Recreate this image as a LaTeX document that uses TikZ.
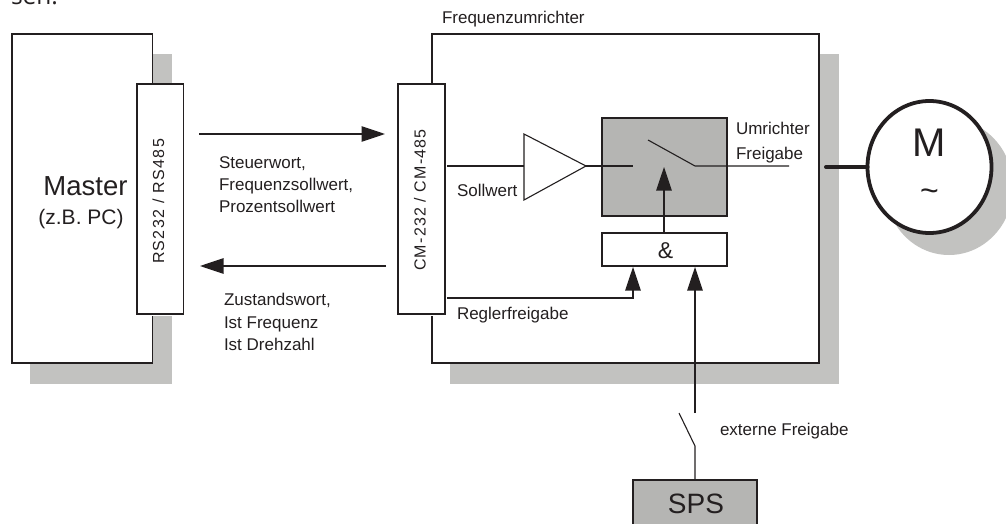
\documentclass[tikz,border=0pt]{standalone}
\usepackage{fontspec}
\setmainfont{Liberation Sans}
\newfontfamily\topfont{Open Sans}
\newfontfamily\rsfont[LetterSpace=8.6]{Liberation Sans}
\newfontfamily\cmfont[LetterSpace=7.5]{Liberation Sans}
\usetikzlibrary{arrows.meta,shapes.geometric}
\definecolor{shade}{HTML}{C2C2C0}
\definecolor{fillgray}{HTML}{B5B5B3}
\definecolor{ink}{HTML}{231F20}
\tikzset{
  x=1pt,y=-1pt,
  every node/.style={text=ink,inner sep=0pt,outer sep=0pt},
  line/.style={draw=ink,line width=1.1pt},
  box/.style={draw=ink,line width=1.2pt,fill=white},
  shadow/.style={fill=shade,draw=none},
  big/.style={-{Triangle[length=23.5pt,width=15.5pt]},draw=ink,line width=1.1pt},
  label/.style={anchor=base west,font=\fontsize{17}{20}\selectfont},
  vert/.style={rotate=90},
}
\begin{document}
\begin{tikzpicture}
\useasboundingbox (0,0) rectangle (1006,524);
\clip (0,0) rectangle (1006,524);
\node[anchor=base west,font=\topfont\fontsize{24.5}{28}\selectfont] (sen) at (11,5) {sen.};
% shadows
\fill[shadow] (30,54) rectangle (172,384);
\fill[shadow] (450,54) rectangle (839,384);
\node[ellipse,fill=shade,minimum width=128pt,minimum height=136pt] (motsh) at (949,187) {};
% main boxes
\draw[box] (12,34) rectangle (152.5,363);
\draw[box] (432,34) rectangle (819,363);
\fill[white] (137,84) rectangle (184,316);
\fill[white] (398,84) rectangle (445,316);
\coordinate (rsNW) at (137,84); \coordinate (rsSE) at (183.5,314);
\coordinate (cmNW) at (398,84); \coordinate (cmSE) at (445,314);
\draw[box] (rsNW) rectangle (rsSE);
\draw[box] (cmNW) rectangle (cmSE);
\node[vert,font=\rsfont\fontsize{16}{20}\selectfont] (rs) at (158.5,201.5) {RS232 / RS485};
\node[vert,font=\cmfont\fontsize{16}{20}\selectfont] (cm) at (420,200) {CM-232 / CM-485};
\node[anchor=base,font=\fontsize{27.5}{30}\selectfont] (master) at (85.5,195) {Master};
\node[anchor=base,font=\fontsize{21}{24}\selectfont] (pc) at (81,224) {(z.B. PC)};
\node[label] (fu) at (442,24) {Frequenzumrichter};
% bus arrows
\coordinate (a1) at (199,134); \coordinate (a2) at (385,134);
\coordinate (b1) at (386,266); \coordinate (b2) at (200,266);
\draw[big] (a1) -- (a2);
\draw[big] (b1) -- (b2);
\node[label] (s1) at (219,168) {Steuerwort,};
\node[label] (s2) at (219,190) {Frequenzsollwert,};
\node[label] (s3) at (219,212) {Prozentsollwert};
\node[label] (z1) at (224,305) {Zustandswort,};
\node[label] (z2) at (224,328) {Ist Frequenz};
\node[label] (z3) at (224,350) {Ist Drehzahl};
% inner
\draw[line,fill=fillgray] (602,118) rectangle (727,216);
\draw[line,fill=white] (524,134) -- (586,166) -- (524,200) -- cycle;
\coordinate (tipL) at (524,166); \coordinate (tipR) at (586,166);
\coordinate (sw0) at (633,166); \coordinate (sw1) at (648,140); \coordinate (sw2) at (695,166); \coordinate (sw3) at (789,166);
\draw[line] (447,166) -- (tipL);
\draw[line] (tipR) -- (sw0);
\draw[line] (sw1) -- (sw2) -- (sw3);
\node[label] (so) at (457,196) {Sollwert};
\node[label] (u1) at (736,135) {Umrichter};
\node[label] (u2) at (736,159) {Freigabe};
\draw[box] (602,233) rectangle (727,266);
\node[anchor=base,font=\fontsize{23}{26}\selectfont] (and) at (665.5,258) {\&};
\draw[big] (664,233) -- (664,167);
\draw[big] (447,298) -- (633,298) -- (633,267);
\node[label] (rf) at (457,319) {Reglerfreigabe};
\draw[big] (695,413) -- (695,267);
\coordinate (e1) at (679,413); \coordinate (e2) at (695,446);
\draw[line] (e1) -- (e2) -- (695,480);
\node[label] (ext) at (720,435) {externe Freigabe};
\draw[line,fill=fillgray] (633,480) rectangle (757,540);
\node[anchor=base,font=\fontsize{28}{30}\selectfont] (sps) at (696,513) {SPS};
% motor
\node[ellipse,draw=ink,line width=3.8pt,fill=white,minimum width=124pt,minimum height=132pt] (mot) at (929.5,167) {};
\draw[draw=ink,line width=4pt,line cap=round] (826,167) -- (mot.west);
\node[anchor=base,font=\fontsize{40}{44}\selectfont] (M) at (929.5,156) {M};
\node[font=\fontsize{32}{34}\selectfont] (til) at (929.5,195) {\char"7E};
\end{tikzpicture}
\end{document}
